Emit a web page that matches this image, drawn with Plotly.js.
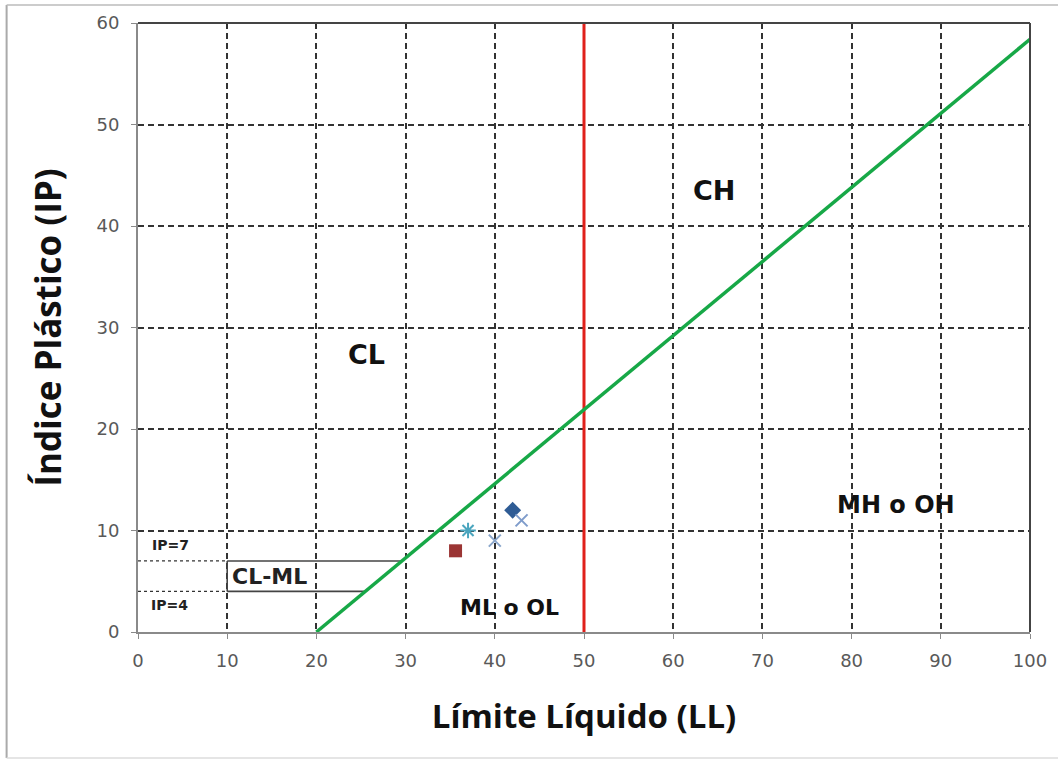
<!DOCTYPE html>
<html><head><meta charset="utf-8">
<script src="https://cdn.plot.ly/plotly-3.0.1.min.js"></script>
<style>body{margin:0;background:#fff}#chart{width:1058px;height:760px}</style>
</head><body><div id="chart"></div>
<script>
// A-line (IP = 0.73(LL-20)) endpoints
const aLineLL = [20, 100];
const aLineIP = [0, 58.4];
// LL = 50 divider
const llDivLL = [50, 50];
const llDivIP = [0, 60];
// CL-ML zone
const clmlTopLL = [10, 29.6];
const clmlTopIP = [7, 7];
const clmlBotLL = [10, 25.5];
const clmlBotIP = [4, 4];
const clmlLeftLL = [10, 10];
const clmlLeftIP = [4, 7];
const ip7LL = [0, 10];
const ip7IP = [7, 7];
const ip4LL = [0, 10];
const ip4IP = [4, 4];
// Samples
const s1LL = [42], s1IP = [12];
const s2LL = [35.6], s2IP = [8];
const s3LL = [37], s3IP = [10];
const s4LL = [40], s4IP = [9];
const s5LL = [43], s5IP = [11];
// Tick labels
const xTicks = [0,10,20,30,40,50,60,70,80,90,100];
const yTicks = [0,10,20,30,40,50,60];
// Zone labels
const zoneText = ['CL','CH','MH o OH','ML o OL'];
const zoneLL = [25.6, 64.6, 85, 41.6];
const zoneIP = [27.3, 43.5, 12.5, 2.4];

const line = (x,y,color,width,dash)=>({x,y,type:'scatter',mode:'lines',line:{color,width,dash:dash||'solid'},hoverinfo:'skip',showlegend:false,cliponaxis:false});
const mk = (x,y,symbol,color,size,lw)=>({x,y,type:'scatter',mode:'markers',marker:{symbol,color,size,line:{color,width:lw||0}},showlegend:false,cliponaxis:false});

const traces = [
  line(ip7LL, ip7IP, '#333', 1.3, 'dot'),
  line(ip4LL, ip4IP, '#333', 1.3, 'dot'),
  line(clmlTopLL, clmlTopIP, '#444', 1.6),
  line(clmlBotLL, clmlBotIP, '#444', 1.6),
  line(clmlLeftLL, clmlLeftIP, '#444', 1.6),
  line(llDivLL, llDivIP, '#E0201B', 3),
  line(aLineLL, aLineIP, '#17A847', 3.5),
  mk(s1LL, s1IP, 'diamond', '#2F5C95', 13),
  mk(s2LL, s2IP, 'square', '#9B3534', 13),
  mk(s3LL, s3IP, 'asterisk-open', '#4AA5BE', 13, 2),
  mk(s4LL, s4IP, 'x-thin-open', '#8AA6CB', 12, 2),
  mk(s5LL, s5IP, 'x-thin-open', '#7F9CCB', 12, 2)
];

const F = 'DejaVu Sans, Verdana, sans-serif';
const ann = [];
const zoneSizes = [27, 27, 24, 22];
zoneText.forEach((t,i)=>ann.push({x:zoneLL[i], y:zoneIP[i], xref:'x', yref:'y', text:'<b>'+t+'</b>', showarrow:false, font:{family:F, size:zoneSizes[i], color:'#111'}}));
ann.push({x:1.3, y:8.6, xref:'x', yref:'y', xanchor:'left', text:'<b>IP=7</b>', showarrow:false, font:{family:F, size:14, color:'#222'}});
ann.push({x:1.2, y:2.7, xref:'x', yref:'y', xanchor:'left', text:'<b>IP=4</b>', showarrow:false, font:{family:F, size:14, color:'#222'}});
ann.push({x:10.3, y:5.5, xref:'x', yref:'y', xanchor:'left', text:'<b>CL-ML</b>', showarrow:false, font:{family:F, size:22, color:'#222'}});

const axisCommon = {showgrid:true, gridcolor:'#333', griddash:'6px,4px', gridwidth:2,
  zeroline:false, showline:true, linecolor:'#8a8a8a', linewidth:2, ticks:'outside', ticklen:5, tickcolor:'#8a8a8a',
  tickfont:{size:18, color:'#595959', family:F}};

const layout = {
  width:1058, height:760,
  margin:{l:138, r:28, t:23, b:128},
  paper_bgcolor:'#fff', plot_bgcolor:'#fff',
  font:{family:F},
  xaxis:Object.assign({}, axisCommon, {range:[0,100], tickvals:xTicks, ticktext:xTicks.map(String), ticklabelstandoff:6,
    title:{text:'<b>Límite Líquido (LL)</b>', font:{size:33, color:'#111', family:'Open Sans, Lato, sans-serif'}, standoff:35}}),
  yaxis:Object.assign({}, axisCommon, {range:[0,60], tickvals:yTicks, ticktext:yTicks.map(String), ticklabelstandoff:8,
    title:{text:'<b>Índice Plástico (IP)</b>', font:{size:35, color:'#111', family:'Open Sans, Lato, sans-serif'}, standoff:24}}),
  annotations:ann,
  shapes:[
    {type:'line', xref:'paper', yref:'paper', x0:0, x1:1, y0:1, y1:1, line:{color:'#444', width:2}},
    {type:'line', xref:'paper', yref:'paper', x0:1, x1:1, y0:0, y1:1, line:{color:'#444', width:2}},
    {type:'line', xref:'paper', yref:'paper', x0:-0.1473, x1:-0.1473, y0:-0.2069, y1:1.0296, line:{color:'#aaa', width:2}},
    {type:'line', xref:'paper', yref:'paper', x0:-0.1473, x1:1.04, y0:1.0296, y1:1.0296, line:{color:'#bbb', width:1.5}},
    {type:'line', xref:'paper', yref:'paper', x0:-0.1473, x1:1.04, y0:-0.2069, y1:-0.2069, line:{color:'#ddd', width:1.5}}
  ]
};
Plotly.newPlot('chart', traces, layout, {staticPlot:true});
</script></body></html>
